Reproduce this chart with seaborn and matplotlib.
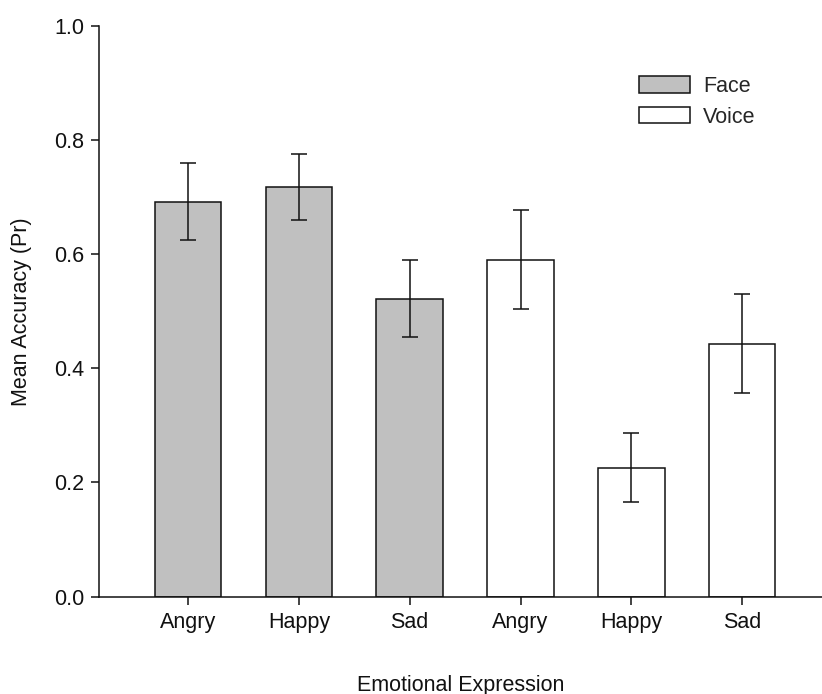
import matplotlib
matplotlib.use("Agg")
import matplotlib.pyplot as plt
import seaborn as sns
import pandas as pd
from matplotlib.patches import Patch

# Mean recognition accuracy (Pr) by modality and emotion, with standard errors
emotions = ["Angry", "Happy", "Sad", "Angry", "Happy", "Sad"]
modality = ["Face", "Face", "Face", "Voice", "Voice", "Voice"]
means = [0.692, 0.717, 0.522, 0.590, 0.226, 0.443]
errors = [0.068, 0.058, 0.068, 0.087, 0.060, 0.087]
yticks = [0.0, 0.2, 0.4, 0.6, 0.8, 1.0]

slots = [f"{m} {e}" for m, e in zip(modality, emotions)]
df = pd.DataFrame({"slot": slots, "modality": modality, "mean": means})

sns.set_theme(style="ticks")
plt.rcParams["font.family"] = ["Liberation Sans", "DejaVu Sans"]

FS = 15.5
INK = "#111111"

fig = plt.figure(figsize=(8.22, 6.94), dpi=100)
ax = fig.add_axes([0.1208, 0.1402, 0.8792, 0.8228])

palette = {"Face": "#c0c0c0", "Voice": "#ffffff"}
sns.barplot(data=df, x="slot", y="mean", hue="modality", order=slots,
            palette=palette, dodge=False, width=0.6, errorbar=None,
            edgecolor=INK, linewidth=1.1, legend=False, ax=ax)

positions = list(range(len(slots)))
ax.errorbar(positions, means, yerr=errors, fmt="none", ecolor=INK,
            elinewidth=1.1, capsize=5.8, capthick=1.1, zorder=5)

ax.set_xlim(-0.8, 5.72)
ax.set_ylim(0, 1.0)
ax.set_yticks(yticks)
ax.set_yticklabels([f"{v:.1f}" for v in yticks])
ax.set_xticks(positions)
ax.set_xticklabels(emotions)

for side in ("top", "right"):
    ax.spines[side].set_visible(False)
for side in ("left", "bottom"):
    ax.spines[side].set_linewidth(1.1)
    ax.spines[side].set_color(INK)

ax.tick_params(axis="both", direction="out", length=6, width=1.1,
               color=INK, labelsize=FS, labelcolor=INK, pad=5)

ax.set_xlabel("Emotional Expression", fontsize=FS, color=INK, labelpad=30)
ax.set_ylabel("Mean Accuracy (Pr)", fontsize=FS, color=INK, labelpad=16)

handles = [Patch(facecolor=palette[k], edgecolor=INK, linewidth=1.1, label=k)
           for k in ("Face", "Voice")]
fig.legend(handles=handles, loc="upper left",
           bbox_to_anchor=(638.7 / 822, 1 - 76 / 694),
           frameon=False, fontsize=FS, handlelength=2.4, handleheight=0.78,
           handletextpad=0.6, labelspacing=0.45, borderpad=0, borderaxespad=0)

fig.savefig("out.png", dpi=100)
